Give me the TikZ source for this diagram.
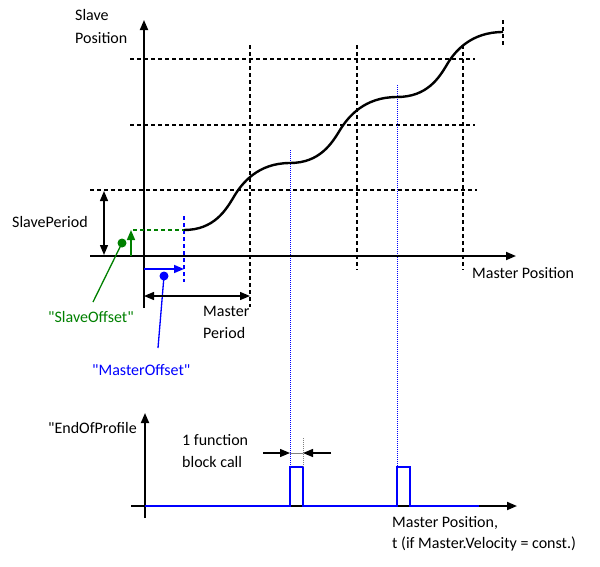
\documentclass[tikz,border=0pt]{standalone}
\usepackage{fontspec}
\setmainfont{Carlito}[Ligatures=TeXOff]
\usetikzlibrary{arrows.meta}
\definecolor{mygreen}{RGB}{0,128,0}
\definecolor{myblue}{RGB}{0,0,255}
\begin{document}
\begin{tikzpicture}[x=1pt,y=-1pt,
  axis/.style={line width=1.8pt},
  gridline/.style={line width=1.3pt,dash pattern=on 4pt off 3pt},
  tipend/.style={-{Triangle[length=10pt,width=8pt]}},
  tipboth/.style={{Triangle[length=10pt,width=8pt]}-{Triangle[length=10pt,width=8pt]}},
  lbl/.style={font=\fontsize{16}{19}\selectfont, inner sep=0pt, anchor=base west},
  bdotted/.style={line width=0.9pt,myblue,dash pattern=on 1pt off 1pt},
  gdotted/.style={line width=0.9pt,gray,dash pattern=on 1pt off 1pt},
  curve/.style={line width=2.4pt},
  pulse/.style={line width=2.4pt,myblue},
]
\useasboundingbox (0,0) rectangle (600,566);

% ---------- upper chart ----------
\coordinate (Ybot) at (144,308);
\coordinate (Ytop) at (144,20);
\coordinate (Xl) at (90,256);
\coordinate (Xr) at (516,256);

% dashed grid
\coordinate (h1a) at (130,59);  \coordinate (h1b) at (475,59);
\coordinate (h2a) at (130,125); \coordinate (h2b) at (475,125);
\coordinate (h3a) at (90,190);  \coordinate (h3b) at (477,190);
\coordinate (v1a) at (250,45);  \coordinate (v1b) at (250,307);
\coordinate (v2a) at (357,45);  \coordinate (v2b) at (357,270);
\coordinate (v3a) at (463,45);  \coordinate (v3b) at (463,270);
\coordinate (v4a) at (503,20);  \coordinate (v4b) at (503,45);
\draw[gridline] (h1a) -- (h1b);
\draw[gridline] (h2a) -- (h2b);
\draw[gridline] (h3a) -- (h3b);
\draw[gridline] (v1a) -- (v1b);
\draw[gridline] (v2a) -- (v2b);
\draw[gridline] (v3a) -- (v3b);
\draw[gridline] (v4a) -- (v4b);

% blue dotted verticals
\coordinate (b1a) at (290,150); \coordinate (b1b) at (290,467);
\coordinate (b2a) at (397,85);  \coordinate (b2b) at (397,467);
\draw[bdotted] (b1a) -- (b1b);
\draw[bdotted] (b2a) -- (b2b);

% axes
\draw[axis,tipend] (Ybot) -- (Ytop);
\draw[axis,tipend] (Xl) -- (Xr);

% offsets
\coordinate (bo1) at (184,216); \coordinate (bo2) at (184,282);
\draw[myblue,line width=1.3pt,dash pattern=on 4pt off 3pt] (bo1) -- (bo2);
\coordinate (go1) at (133,230); \coordinate (go2) at (184,230);
\draw[mygreen,line width=1.3pt,dash pattern=on 4pt off 3pt] (go1) -- (go2);
\coordinate (ga1) at (131,256); \coordinate (ga2) at (131,230);
\draw[mygreen,line width=1.6pt,tipend] (ga1) -- (ga2);
\coordinate (gdot) at (122,243); \coordinate (gend) at (93,302);
\draw[mygreen,line width=1.3pt] (gdot) -- (gend);
\fill[mygreen] (gdot) circle (4.5pt);
\coordinate (ba1) at (144,269); \coordinate (ba2) at (184,269);
\draw[myblue,line width=1.6pt,tipend] (ba1) -- (ba2);
\coordinate (bdot) at (164,276); \coordinate (bend) at (158,348);
\draw[myblue,line width=1.3pt] (bdot) -- (bend);
\fill[myblue] (bdot) circle (4.5pt);

% periods
\coordinate (sp1) at (104,191); \coordinate (sp2) at (104,255);
\draw[line width=1.3pt,tipboth] (sp1) -- (sp2);
\coordinate (mp1) at (144,296); \coordinate (mp2) at (250,296);
\draw[line width=1.3pt,tipboth] (mp1) -- (mp2);

% profile curve
\draw[curve]
  (184,230) .. controls (214,230) and (226,210) .. (234,196.5)
            .. controls (242,183) and (258,163) .. (290,163)
            .. controls (320,163) and (332,143) .. (340,130)
            .. controls (348,117) and (364,97) .. (397,97)
            .. controls (427,97) and (439,78) .. (447,64.5)
            .. controls (455,51) and (471,32) .. (503,32);

% labels upper
\node[lbl] (tSlave) at (75,20) {Slave};
\node[lbl] (tSlavePos) at (75,43) {Position};
\node[lbl] (tSP) at (12,227) {SlavePeriod};
\node[lbl] (tMP) at (472,278) {Master Position};
\node[lbl,text=mygreen] (tSO) at (48,322) {"SlaveOffset"};
\node[lbl,text=myblue] (tMO) at (92,375) {"MasterOffset"};
\node[lbl] (tMaster) at (203,316) {Master};
\node[lbl] (tPeriod) at (203,338) {Period};

% ---------- lower chart ----------
\coordinate (Lybot) at (145,518);
\coordinate (Lytop) at (145,413);
\coordinate (Lxl) at (131,506);
\coordinate (Lxr) at (517,506);
\draw[axis,tipend] (Lybot) -- (Lytop);
\draw[axis,tipend] (Lxl) -- (Lxr);

\draw[pulse] (145,506) -- (290,506) -- (290,467) -- (303,467) -- (303,506)
  -- (397,506) -- (397,467) -- (410,467) -- (410,506) -- (479,506);

\coordinate (gd1) at (303,438); \coordinate (gd2) at (303,467);
\draw[gdotted] (gd1) -- (gd2);
\coordinate (fa1) at (263,453); \coordinate (fa2) at (290,453);
\coordinate (fb1) at (331,453); \coordinate (fb2) at (303,453);
\draw[gray,line width=0.8pt] (fa2) -- (fb2);
\draw[line width=1.3pt,tipend] (fa1) -- (fa2);
\draw[line width=1.3pt,tipend] (fb1) -- (fb2);

\node[lbl] (tEOP) at (48,433) {"EndOfProfile};
\node[lbl] (tF1) at (182,445) {1 function};
\node[lbl] (tF2) at (182,467) {block call};
\node[lbl] (tMP2) at (392,527) {Master Position,};
\node[lbl] (tT) at (392,548) {t (if Master.Velocity = const.)};
\end{tikzpicture}
\end{document}
